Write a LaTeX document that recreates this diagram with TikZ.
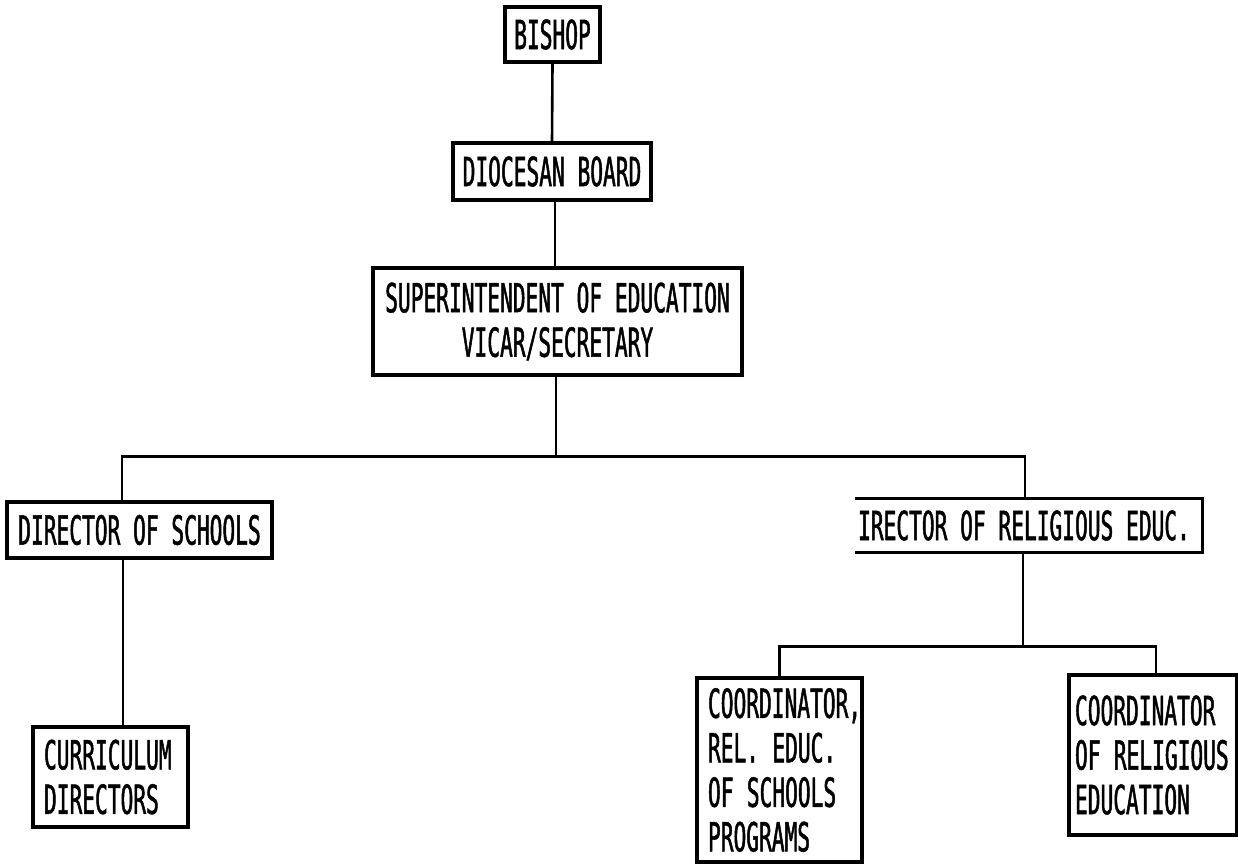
\documentclass[tikz,border=0pt]{standalone}
\usepackage{fontspec}
\newfontfamily\tw[FakeStretch=0.53,FakeBold=1.2]{DejaVu Sans Mono}
\begin{document}
\begin{tikzpicture}[x=1pt,y=-1pt,
  box/.style={draw, line width=3.4pt, inner sep=0pt, font=\tw\fontsize{40}{44.5}\selectfont, align=center},
  lbox/.style={box, align=left, inner xsep=11pt, execute at begin node={\hyphenpenalty=10000\exhyphenpenalty=10000}},
  conn/.style={line width=2.6pt}]
\useasboundingbox (0,0) rectangle (1238,866);
\fill[white] (0,0) rectangle (1238,866);

\node[box, minimum width=95pt, minimum height=55pt] (bishop) at (552.5,34.5) {BISHOP};
\node[box, minimum width=198pt, minimum height=57pt] (board) at (552,171.5) {DIOCESAN BOARD};
\node[box, minimum width=369pt, minimum height=107pt] (super) at (557.5,321.5) {SUPERINTENDENT OF EDUCATION\\VICAR/SECRETARY};
\node[box, minimum width=265pt, minimum height=56pt] (dschools) at (139.5,530) {DIRECTOR OF SCHOOLS};
\node[lbox, minimum width=155pt, minimum height=100pt, text width=133pt] (curric) at (110.5,777) {CURRICULUM\\DIRECTORS};
\node[box, draw=none, minimum width=344pt, minimum height=51pt] (dreled) at (1029,525.5) {\hspace*{-10pt}IRECTOR OF RELIGIOUS EDUC.};
\draw[line width=3.4pt] (dreled.north west) -- (dreled.north east) -- (dreled.south east) -- (dreled.south west);
\node[lbox, minimum width=165pt, minimum height=184pt, text width=143pt] (coordA) at (779.5,770) {COORDINATOR,\\REL. EDUC.\\OF SCHOOLS\\PROGRAMS};
\node[lbox, minimum width=168pt, minimum height=160pt, text width=156pt, inner xsep=6pt] (coordB) at (1153,755) {COORDINATOR\\OF RELIGIOUS\\EDUCATION};

% connectors
\draw[conn] (bishop.south) -- (board.north);
\draw[conn] ([xshift=3pt]board.south) -- ([xshift=3pt]board.south |- super.north);
\draw[conn] ([xshift=-17.5pt]dschools.north) -- ++(0,-44) coordinate (barL) -| ([xshift=-4pt]dreled.north);
\draw[conn] ([xshift=-1.5pt]super.south) -- ([xshift=-1.5pt]super.south |- barL);
\draw[conn] ([xshift=-16.5pt]dschools.south) -- ([xshift=12.5pt]curric.north);
\draw[conn] ([xshift=-6pt]dreled.south) -- ++(0,94) coordinate (barR);
\draw[conn] (coordA.north) |- (barR) -| ([xshift=3pt]coordB.north);
\end{tikzpicture}
\end{document}
